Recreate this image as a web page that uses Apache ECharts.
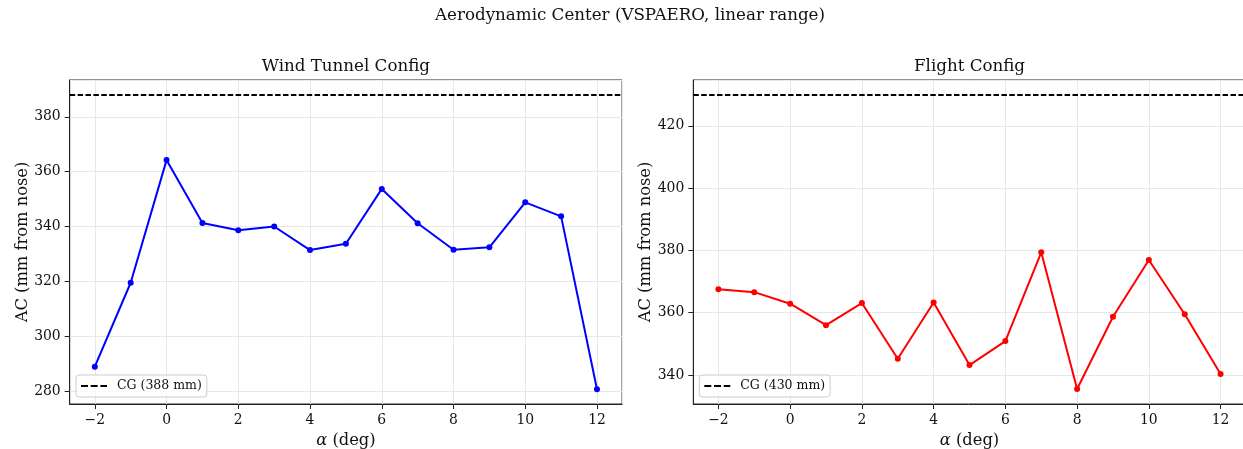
<!DOCTYPE html>
<html>
<head>
<meta charset="utf-8">
<script src="https://cdn.jsdelivr.net/npm/echarts@6/dist/echarts.min.js"></script>
<style>html,body{margin:0;padding:0;background:#fff}#c{width:1243px;height:449px}</style>
</head>
<body>
<div id="c"></div>
<script>
// ---- data ----
const suptitle = 'Aerodynamic Center (VSPAERO, linear range)';
const panelTitles = ['Wind Tunnel Config', 'Flight Config'];
const alphaDeg = [-2, -1, 0, 1, 2, 3, 4, 5, 6, 7, 8, 9, 10, 11, 12];
const acWindTunnel = [288.9, 319.5, 364.2, 341.3, 338.6, 340.0, 331.4, 333.7, 353.7, 341.2, 331.5, 332.4, 348.8, 343.7, 280.7];
const acFlight = [367.5, 366.6, 362.9, 356.0, 363.1, 345.2, 363.3, 343.2, 350.9, 379.4, 335.5, 358.7, 376.9, 359.5, 340.3];
const cgValues = [388, 430];
const cgNames = ['CG (388 mm)', 'CG (430 mm)'];
const xLimits = [-2.7, 12.7];
const yLimits = [[275.3, 393.4], [330.7, 434.7]];
const xLabel = 'α (deg)';
const yLabel = 'AC (mm from nose)';
const seriesColors = ['#0000ff', '#ff0000'];

// ---- chart ----
const FONT = 'DejaVu Serif';
const fmt = v => (v < 0 ? '\u2212' + (-v) : String(v));
const grids = [
  {left: 69.7, top: 80, width: 552.4, height: 324},
  {left: 693.3, top: 80, width: 552.4, height: 324}
];
const dashIcon = 'path://M0,0H7V2H0Z M9.7,0H16.7V2H9.7Z M19.4,0H26V2H19.4Z';

const chart = echarts.init(document.getElementById('c'), null, {renderer: 'canvas'});
const series = [];
const xAxes = [], yAxes = [], legends = [];
[acWindTunnel, acFlight].forEach((vals, i) => {
  xAxes.push({
    type: 'value', gridIndex: i, min: xLimits[0], max: xLimits[1], splitNumber: 7,
    name: '{i|α} (deg)', nameLocation: 'middle', nameGap: 29,
    nameTextStyle: {fontFamily: FONT, fontSize: 16.3, color: '#111',
      rich: {i: {fontStyle: 'italic', fontFamily: FONT, fontSize: 16.3, color: '#111'}}},
    axisLine: {show: true, onZero: false, lineStyle: {color: '#222', width: 1}},
    axisTick: {show: true, length: 5, lineStyle: {color: '#222', width: 1}},
    axisLabel: {fontFamily: FONT, fontSize: 13.9, color: '#111', margin: 9, formatter: fmt,
      showMinLabel: false, showMaxLabel: false},
    splitLine: {show: true, lineStyle: {color: '#e7e7e7', width: 1}}
  });
  yAxes.push({
    type: 'value', gridIndex: i, min: yLimits[i][0], max: yLimits[i][1], splitNumber: 6,
    name: yLabel, nameLocation: 'middle', nameGap: 39,
    nameTextStyle: {fontFamily: FONT, fontSize: 16.3, color: '#111'},
    axisLine: {show: true, onZero: false, lineStyle: {color: '#222', width: 1}},
    axisTick: {show: true, length: 5, lineStyle: {color: '#222', width: 1}},
    axisLabel: {fontFamily: FONT, fontSize: 13.9, color: '#111', margin: 9, formatter: fmt,
      showMinLabel: false, showMaxLabel: false},
    splitLine: {show: true, lineStyle: {color: '#e7e7e7', width: 1}}
  });
  series.push({
    type: 'line', xAxisIndex: i, yAxisIndex: i, name: panelTitles[i],
    data: alphaDeg.map((a, k) => [a, vals[k]]),
    symbol: 'circle', symbolSize: 6, showSymbol: true,
    lineStyle: {color: seriesColors[i], width: 2},
    itemStyle: {color: seriesColors[i]},
    emphasis: {disabled: true}, animation: false, z: 3
  });
  series.push({
    type: 'line', xAxisIndex: i, yAxisIndex: i, name: cgNames[i],
    data: [], itemStyle: {color: '#000'}, lineStyle: {color: '#000'},
    markLine: {
      silent: true, symbol: ['none', 'none'], animation: false,
      label: {show: false},
      lineStyle: {color: '#000', width: 2, type: [5.5, 2.4]},
      emphasis: {disabled: true},
      data: [{yAxis: cgValues[i]}]
    },
    animation: false
  });
  legends.push({
    data: [{name: cgNames[i], icon: dashIcon}],
    left: i === 0 ? 76 : 699.3, top: 375,
    orient: 'vertical', itemWidth: 26, itemHeight: 2, itemGap: 0,
    padding: [4.5, 5, 4.5, 5], symbolKeepAspect: false,
    backgroundColor: 'rgba(255,255,255,0.8)', borderColor: '#cccccc', borderWidth: 1, borderRadius: 3,
    textStyle: {fontFamily: FONT, fontSize: 12.5, color: '#111', padding: [0, 0, 0, 5]},
    selectedMode: false
  });
});

chart.setOption({
  animation: false,
  backgroundColor: '#ffffff',
  grid: grids.map(g => Object.assign({containLabel: false, outerBoundsMode: 'none', show: true, borderColor: '#222', borderWidth: 1, backgroundColor: 'transparent'}, g)),
  xAxis: xAxes,
  yAxis: yAxes,
  legend: legends,
  series: series,
  graphic: [
    {type: 'text', x: 630, y: 16, style: {text: suptitle, font: '16.7px "DejaVu Serif"', fill: '#111', textAlign: 'center', textVerticalAlign: 'middle'}},
    {type: 'text', x: 345.9, y: 67, style: {text: panelTitles[0], font: '16.7px "DejaVu Serif"', fill: '#111', textAlign: 'center', textVerticalAlign: 'middle'}},
    {type: 'text', x: 969.5, y: 67, style: {text: panelTitles[1], font: '16.7px "DejaVu Serif"', fill: '#111', textAlign: 'center', textVerticalAlign: 'middle'}}
  ]
});
</script>
</body>
</html>
